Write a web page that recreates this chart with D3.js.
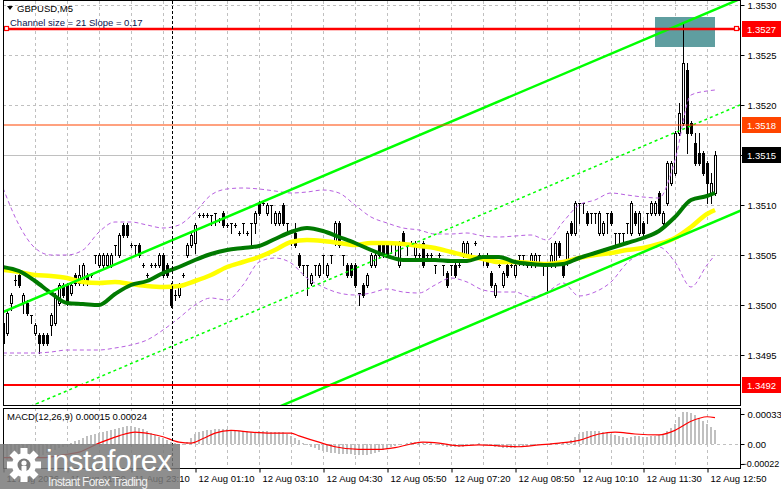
<!DOCTYPE html>
<html><head><meta charset="utf-8">
<script src="https://cdn.jsdelivr.net/npm/d3@7/dist/d3.min.js"></script>
<style>html,body{margin:0;padding:0;background:#fff;}svg{display:block;font-family:"Liberation Sans",Arial,sans-serif;}</style>
</head><body><svg id="c" width="781" height="489"></svg>
<script>
// ---------------- DATA ----------------
const symbolTitle = "GBPUSD,M5";
const channelText = "Channel size = 21 Slope = 0.17";
const macdText = "MACD(12,26,9) 0.00015 0.00024";

const opens = [
1.34982,1.34972,1.35002,1.35025,1.35030,1.35002,1.35002,1.34990,1.34972,1.34970,
1.34970,1.34970,1.34980,1.34982,1.35002,1.35020,1.35020,1.35012,1.35030,1.35022,
1.35022,1.35030,1.35030,1.35050,1.35040,1.35040,1.35040,1.35040,1.35060,1.35050,
1.35080,1.35080,1.35060,1.35060,1.35060,1.35040,1.35030,1.35040,1.35040,1.35040,
1.35050,1.35040,1.35020,1.35010,1.35010,1.35030,1.35050,1.35060,1.35062,1.35090,
1.35090,1.35090,1.35090,1.35092,1.35085,1.35092,1.35080,1.35082,1.35080,1.35072,
1.35082,1.35072,1.35082,1.35082,1.35102,1.35102,1.35092,1.35100,1.35082,1.35082,
1.35100,1.35082,1.35062,1.35072,1.35050,1.35040,1.35040,1.35022,1.35040,1.35030,
1.35050,1.35030,1.35050,1.35062,1.35082,1.35050,1.35040,1.35040,1.35040,1.35012,
1.35020,1.35020,1.35040,1.35040,1.35060,1.35062,1.35062,1.35062,1.35062,1.35040,
1.35072,1.35062,1.35062,1.35050,1.35050,1.35062,1.35050,1.35050,1.35040,1.35050,
1.35040,1.35032,1.35040,1.35040,1.35040,1.35050,1.35050,1.35050,1.35062,1.35050,
1.35050,1.35050,1.35032,1.35010,1.35040,1.35020,1.35040,1.35040,1.35030,1.35050,
1.35050,1.35040,1.35040,1.35040,1.35050,1.35040,1.35040,1.35040,1.35040,1.35062,
1.35042,1.35042,1.35082,1.35072,1.35102,1.35102,1.35092,1.35092,1.35092,1.35072,
1.35072,1.35092,1.35092,1.35072,1.35072,1.35072,1.35082,1.35072,1.35092,1.35072,
1.35082,1.35092,1.35092,1.35092,1.35112,1.35082,1.35102,1.35122,1.35132,1.35172,
1.35182,1.35235,1.35182,1.35162,1.35152,1.35152,1.35142,1.35112,1.35112];
const highs = [
1.34985,1.34995,1.35012,1.35030,1.35032,1.35012,1.35005,1.34990,1.34982,1.34972,
1.34972,1.34972,1.34992,1.35012,1.35022,1.35022,1.35022,1.35022,1.35032,1.35040,
1.35042,1.35032,1.35032,1.35050,1.35052,1.35052,1.35052,1.35052,1.35060,1.35072,
1.35082,1.35082,1.35062,1.35060,1.35062,1.35042,1.35032,1.35042,1.35042,1.35052,
1.35052,1.35042,1.35022,1.35015,1.35022,1.35032,1.35062,1.35072,1.35082,1.35092,
1.35092,1.35092,1.35090,1.35092,1.35087,1.35094,1.35082,1.35082,1.35082,1.35074,
1.35082,1.35074,1.35082,1.35094,1.35104,1.35104,1.35102,1.35100,1.35094,1.35094,
1.35102,1.35082,1.35064,1.35082,1.35052,1.35040,1.35040,1.35032,1.35040,1.35042,
1.35050,1.35042,1.35050,1.35084,1.35084,1.35050,1.35042,1.35042,1.35042,1.35012,
1.35022,1.35032,1.35052,1.35052,1.35062,1.35064,1.35064,1.35062,1.35062,1.35064,
1.35074,1.35062,1.35064,1.35064,1.35052,1.35064,1.35052,1.35052,1.35040,1.35052,
1.35040,1.35034,1.35040,1.35042,1.35042,1.35064,1.35064,1.35052,1.35064,1.35052,
1.35050,1.35052,1.35034,1.35022,1.35042,1.35034,1.35042,1.35042,1.35042,1.35050,
1.35050,1.35042,1.35052,1.35052,1.35050,1.35040,1.35040,1.35062,1.35064,1.35064,
1.35044,1.35074,1.35084,1.35104,1.35102,1.35102,1.35094,1.35092,1.35092,1.35094,
1.35084,1.35092,1.35094,1.35072,1.35072,1.35072,1.35082,1.35104,1.35094,1.35094,
1.35084,1.35092,1.35104,1.35104,1.35114,1.35094,1.35144,1.35144,1.35174,1.35202,
1.35283,1.35242,1.35184,1.35172,1.35172,1.35154,1.35144,1.35132,1.35154];
const lows = [
1.34960,1.34970,1.34995,1.35020,1.35018,1.34992,1.34990,1.34982,1.34970,1.34952,
1.34960,1.34960,1.34970,1.34980,1.35000,1.35008,1.35000,1.35010,1.35020,1.35020,
1.35020,1.35020,1.35028,1.35042,1.35038,1.35038,1.35038,1.35038,1.35050,1.35048,
1.35068,1.35068,1.35058,1.35050,1.35048,1.35038,1.35028,1.35038,1.35038,1.35038,
1.35028,1.35028,1.34998,1.35005,1.35008,1.35028,1.35048,1.35058,1.35052,1.35088,
1.35088,1.35088,1.35080,1.35080,1.35083,1.35078,1.35078,1.35072,1.35078,1.35070,
1.35072,1.35070,1.35060,1.35072,1.35090,1.35100,1.35090,1.35082,1.35080,1.35080,
1.35080,1.35072,1.35060,1.35058,1.35038,1.35030,1.35010,1.35020,1.35030,1.35028,
1.35032,1.35028,1.35042,1.35060,1.35058,1.35040,1.35028,1.35028,1.35018,1.35000,
1.35008,1.35018,1.35038,1.35038,1.35048,1.35048,1.35048,1.35052,1.35050,1.35038,
1.35060,1.35050,1.35060,1.35048,1.35048,1.35038,1.35048,1.35048,1.35032,1.35048,
1.35030,1.35018,1.35030,1.35028,1.35038,1.35048,1.35048,1.35048,1.35060,1.35048,
1.35040,1.35038,1.35018,1.35008,1.35038,1.35018,1.35028,1.35038,1.35028,1.35040,
1.35040,1.35038,1.35038,1.35038,1.35040,1.35030,1.35012,1.35038,1.35038,1.35048,
1.35028,1.35040,1.35070,1.35070,1.35082,1.35092,1.35080,1.35082,1.35082,1.35070,
1.35070,1.35072,1.35080,1.35058,1.35062,1.35062,1.35072,1.35070,1.35080,1.35070,
1.35070,1.35082,1.35090,1.35090,1.35090,1.35080,1.35100,1.35120,1.35130,1.35170,
1.35180,1.35152,1.35170,1.35140,1.35140,1.35130,1.35102,1.35102,1.35110];
const closes = [
1.34962,1.34992,1.35010,1.35025,1.35020,1.35010,1.34992,1.34990,1.34980,1.34962,
1.34962,1.34962,1.34990,1.35010,1.35020,1.35010,1.35002,1.35020,1.35022,1.35030,
1.35040,1.35022,1.35030,1.35050,1.35050,1.35050,1.35050,1.35050,1.35060,1.35070,
1.35070,1.35070,1.35060,1.35060,1.35050,1.35040,1.35030,1.35040,1.35040,1.35050,
1.35030,1.35030,1.35000,1.35010,1.35020,1.35030,1.35060,1.35070,1.35080,1.35090,
1.35090,1.35090,1.35090,1.35092,1.35085,1.35080,1.35080,1.35082,1.35080,1.35072,
1.35082,1.35072,1.35082,1.35092,1.35092,1.35102,1.35100,1.35100,1.35092,1.35092,
1.35082,1.35082,1.35062,1.35060,1.35040,1.35040,1.35040,1.35030,1.35040,1.35040,
1.35050,1.35040,1.35050,1.35082,1.35060,1.35050,1.35030,1.35030,1.35020,1.35012,
1.35010,1.35030,1.35050,1.35050,1.35050,1.35050,1.35050,1.35062,1.35062,1.35062,
1.35062,1.35062,1.35062,1.35062,1.35050,1.35040,1.35050,1.35050,1.35040,1.35050,
1.35040,1.35020,1.35040,1.35030,1.35040,1.35062,1.35062,1.35050,1.35062,1.35050,
1.35050,1.35040,1.35020,1.35020,1.35040,1.35032,1.35030,1.35040,1.35040,1.35050,
1.35050,1.35040,1.35050,1.35050,1.35050,1.35040,1.35040,1.35050,1.35062,1.35050,
1.35030,1.35072,1.35072,1.35102,1.35102,1.35102,1.35082,1.35092,1.35092,1.35092,
1.35082,1.35092,1.35082,1.35072,1.35072,1.35072,1.35082,1.35102,1.35082,1.35092,
1.35072,1.35092,1.35102,1.35102,1.35092,1.35092,1.35142,1.35142,1.35172,1.35192,
1.35242,1.35172,1.35172,1.35142,1.35142,1.35132,1.35122,1.35122,1.35150];

// moving averages / bands sampled at bar indices
const lineIdx = [0,4,8,12,16,20,24,28,32,36,40,44,48,52,56,60,64,68,72,76,80,84,88,92,96,100,104,108,112,116,120,124,128,132,136,140,144,148,152,156,160,164,168,172,176,178];
const maFast = [1.35038,1.35034,1.35024,1.35012,1.35002,1.35001,1.35000,1.35011,1.35020,1.35024,1.35032,1.35038,1.35045,1.35051,1.35055,1.35057,1.35059,1.35066,1.35073,1.35077,1.35074,1.35068,1.35062,1.35055,1.35049,1.35045,1.35045,1.35045,1.35044,1.35044,1.35048,1.35048,1.35043,1.35041,1.35040,1.35041,1.35047,1.35052,1.35057,1.35062,1.35067,1.35074,1.35088,1.35105,1.35109,1.35112];
const maSlow = [1.35035,1.35033,1.35030,1.35029,1.35027,1.35023,1.35022,1.35023,1.35021,1.35019,1.35018,1.35019,1.35024,1.35030,1.35038,1.35043,1.35048,1.35055,1.35063,1.35065,1.35064,1.35062,1.35060,1.35062,1.35062,1.35061,1.35059,1.35057,1.35053,1.35049,1.35046,1.35043,1.35043,1.35042,1.35041,1.35043,1.35047,1.35050,1.35052,1.35055,1.35057,1.35061,1.35067,1.35078,1.35091,1.35095];
const bandUpper = [1.35117,1.35080,1.35057,1.35050,1.35050,1.35055,1.35073,1.35083,1.35083,1.35080,1.35077,1.35080,1.35093,1.35110,1.35116,1.35117,1.35116,1.35114,1.35112,1.35113,1.35115,1.35112,1.35100,1.35088,1.35082,1.35077,1.35075,1.35071,1.35071,1.35072,1.35069,1.35068,1.35069,1.35070,1.35065,1.35083,1.35100,1.35105,1.35112,1.35110,1.35108,1.35107,1.35145,1.35210,1.35214,1.35215];
const bandLower = [1.34952,1.34952,1.34952,1.34953,1.34955,1.34955,1.34955,1.34957,1.34960,1.34965,1.34975,1.34987,1.35000,1.35007,1.35005,1.35020,1.35043,1.35047,1.35042,1.35027,1.35018,1.35012,1.35010,1.35012,1.35016,1.35013,1.35012,1.35020,1.35027,1.35023,1.35015,1.35013,1.35013,1.35008,1.35013,1.35022,1.35009,1.35013,1.35023,1.35042,1.35053,1.35058,1.35043,1.35018,1.35040,1.35050];

// regression channel (start / end bar and upper-line prices), width in price
const channelBars = [0, 186];
const channelUpper = [1.34993, 1.35309];
const channelWidth = 0.00212;

// horizontal levels
const levelValues = [1.35276, 1.3518, 1.3492];
const levelLabels = ["1.3527", "1.3518", "1.3492"];
const currentPrice = 1.3515;
const currentLabel = "1.3515";
// highlighted zone (bars, prices)
const zoneBars = [163, 178];
const zonePrices = [1.35258, 1.35288];

// MACD (values in 1e-5)
const macdHistRaw = [
-18,-18,-18,-18,-18,-17,-17,-15,-15,-14,-12,-10,-9,-7,-4,-3,-1,1,3,4,
7,9,10,11,12,13,14,15,17,18,19,20,20,19,18,17,14,12,10,8,
7,4,2,1,0,-1,2,7,11,13,14,15,15,17,17,17,17,15,15,14,
14,14,13,13,14,14,14,13,13,13,13,11,9,7,4,1,-1,-3,-4,-7,
-8,-9,-10,-10,-11,-11,-11,-11,-12,-12,-12,-12,-11,-10,-9,-7,-6,-3,-2,-1,
0,1,2,2,2,1,1,1,0,-1,-2,-3,-3,-3,-3,-3,-2,-1,0,1,
0,-1,-2,-3,-3,-4,-4,-4,-4,-3,-3,-2,-2,-1,-1,0,0,1,1,1,
2,2,4,8,11,13,14,14,14,14,13,12,11,10,9,8,7,8,9,9,
8,8,9,9,10,11,14,18,22,30,35,35,34,32,29,25,22,19,15];
const signalIdx = [0,10,15,19,24,29,33,37,40,44,47,50,53,57,62,67,72,74,79,83,89,94,98,102,105,109,114,119,124,129,134,139,144,149,153,158,164,168,172,176,178];
const signalRaw = [-15,-15,-12,-9,1,9,13,11,8,2,1,6,12,15,13,12,12,9,2,-3,-6,-6,-4,0,2,1,-2,-1,-2,-3,-1,1,4,11,13,11,10,15,25,30,29];
const macdHist = macdHistRaw.map(v => v * 1e-5);
const signalVals = signalRaw.map(v => v * 1e-5);

const priceTicks = [1.3495,1.3500,1.3505,1.3510,1.3515,1.3520,1.3525,1.3530];
const macdTicks = [0.00033, 0, -0.00022];
const timeTickIdx = [0,16,32,48,64,80,96,112,128,144,160,176];
const timeTickLabels = ["11 Aug 2026","11 Aug 21:50","11 Aug 23:10","12 Aug 01:10","12 Aug 03:10","12 Aug 04:30","12 Aug 05:50","12 Aug 07:20","12 Aug 08:50","12 Aug 10:10","12 Aug 11:30","12 Aug 12:50"];
const separatorIdx = 42;

// ---------------- DRAW ----------------
const svg = d3.select("#c");
const L = 3, R = 740, T = 1, B = 405, MT = 408, MB = 468;
const x = d3.scaleLinear().domain([0, 178]).range([3, 715]);
const y = d3.scaleLinear().domain([1.3490, 1.3530]).range([405, 5]);
const ym = d3.scaleLinear().domain([-0.00022, 0.00033]).range([464, 414]);
const FS = "9.5px";

const defs = svg.append("defs");
defs.append("clipPath").attr("id","cm").append("rect").attr("x",L+1).attr("y",T).attr("width",R-L-1).attr("height",B-T);
defs.append("clipPath").attr("id","cd").append("rect").attr("x",L+1).attr("y",MT+1).attr("width",R-L-1).attr("height",MB-MT-1);

const gMain = svg.append("g").attr("clip-path","url(#cm)");
const gMacd = svg.append("g").attr("clip-path","url(#cd)");

// grid
const gridX = d3.range(0, 177, 8);
[gMain, gMacd].forEach((g, i) => {
  g.selectAll(null).data(gridX).enter().append("line")
    .attr("x1", d => Math.round(x(d)) + 0.5).attr("x2", d => Math.round(x(d)) + 0.5)
    .attr("y1", i ? MT : T).attr("y2", i ? MB : B)
    .attr("stroke", "#c0c0c0").attr("stroke-dasharray", "3,3");
});
gMain.selectAll(null).data(priceTicks).enter().append("line")
  .attr("x1", L).attr("x2", R).attr("y1", d => Math.round(y(d)) + 0.5).attr("y2", d => Math.round(y(d)) + 0.5)
  .attr("stroke", "#c0c0c0").attr("stroke-dasharray", "3,3");
gMacd.append("line").attr("x1", L).attr("x2", R).attr("y1", Math.round(ym(0)) + 0.5).attr("y2", Math.round(ym(0)) + 0.5)
  .attr("stroke", "#c0c0c0").attr("stroke-dasharray", "3,3");

// period separator
[[T, B], [MT, MB]].forEach(([a, b]) => {
  svg.append("line").attr("x1", Math.round(x(separatorIdx)) + 1.5).attr("x2", Math.round(x(separatorIdx)) + 1.5)
    .attr("y1", a).attr("y2", b).attr("stroke", "#000").attr("stroke-dasharray", "3,2");
});

// zone rectangle
gMain.append("rect").attr("x", x(zoneBars[0])).attr("width", x(zoneBars[1]) - x(zoneBars[0]))
  .attr("y", y(zonePrices[1])).attr("height", y(zonePrices[0]) - y(zonePrices[1])).attr("fill", "#5f9ea0");

// current price line
gMain.append("line").attr("x1", L).attr("x2", R).attr("y1", Math.round(y(currentPrice)) + 0.5).attr("y2", Math.round(y(currentPrice)) + 0.5)
  .attr("stroke", "#c0c0c0");

// candles
const bars = d3.range(opens.length);
const cg = gMain.append("g").attr("shape-rendering", "crispEdges");
bars.forEach(i => {
  const cx = Math.round(x(i));
  const o = opens[i], c = closes[i], h = highs[i], l = lows[i];
  cg.append("line").attr("x1", cx + 0.5).attr("x2", cx + 0.5).attr("y1", Math.round(y(h))).attr("y2", Math.round(y(l)) + 1).attr("stroke", "#000");
  const yt = Math.round(y(Math.max(o, c))), yb = Math.round(y(Math.min(o, c)));
  if (yb - yt < 1) {
    cg.append("line").attr("x1", cx - 1).attr("x2", cx + 2).attr("y1", yt + 0.5).attr("y2", yt + 0.5).attr("stroke", "#000");
  } else {
    cg.append("rect").attr("x", cx - 0.5).attr("width", 2).attr("y", yt + 0.5).attr("height", yb - yt)
      .attr("fill", c >= o ? "#fff" : "#000").attr("stroke", "#000");
  }
});

// bands
const bandLine = d3.line().x((d, i) => x(lineIdx[i])).y(d => y(d)).curve(d3.curveMonotoneX);
[bandUpper, bandLower].forEach(arr => {
  gMain.append("path").attr("d", bandLine(arr)).attr("fill", "none").attr("stroke", "#b760e0").attr("stroke-width", 1).attr("stroke-dasharray", "4,3");
});
// moving averages
gMain.append("path").attr("d", bandLine(maSlow)).attr("fill", "none").attr("stroke", "#ffff00").attr("stroke-width", 4.5);
gMain.append("path").attr("d", bandLine(maFast)).attr("fill", "none").attr("stroke", "#007a00").attr("stroke-width", 4);

// channel
const chLine = (off) => gMain.append("line")
  .attr("x1", x(channelBars[0])).attr("x2", x(channelBars[1]))
  .attr("y1", y(channelUpper[0] - off)).attr("y2", y(channelUpper[1] - off))
  .attr("stroke", "#00ff00");
chLine(0).attr("stroke-width", 2.5);
chLine(channelWidth).attr("stroke-width", 2.5);
chLine(channelWidth / 2).attr("stroke-width", 1.5).attr("stroke-dasharray", "3,3");

// horizontal levels
const levelColors = ["#ff0000", "#ff4500", "#ff0000"];
const levelWidths = [2.5, 1.2, 2];
levelValues.forEach((v, i) => {
  gMain.append("line").attr("x1", L).attr("x2", R).attr("y1", y(v)).attr("y2", y(v))
    .attr("stroke", levelColors[i]).attr("stroke-width", levelWidths[i]);
});
// anchor squares on first level
[L + 1, R - 6].forEach(sx => {
  svg.append("rect").attr("x", sx + 0.5).attr("y", Math.round(y(levelValues[0])) - 2.5).attr("width", 4).attr("height", 4)
    .attr("fill", "#fff").attr("stroke", "#ff0000").attr("stroke-width", 1.2);
});

// MACD histogram + signal
gMacd.append("g").attr("shape-rendering", "crispEdges").selectAll("rect").data(macdHist).enter().append("rect")
  .attr("x", (d, i) => Math.round(x(i)) - 1).attr("width", 2)
  .attr("y", d => Math.min(ym(d), ym(0))).attr("height", d => Math.abs(ym(d) - ym(0)))
  .attr("fill", "#c0c0c0");
gMacd.append("path").attr("d", d3.line().x((d, i) => x(signalIdx[i])).y(d => ym(d)).curve(d3.curveMonotoneX)(signalVals))
  .attr("fill", "none").attr("stroke", "#ff0000").attr("stroke-width", 1.2);

// frames
const fr = svg.append("g").attr("fill", "none").attr("stroke", "#000").attr("shape-rendering", "crispEdges");
fr.append("rect").attr("x", L + 0.5).attr("y", T - 0.5).attr("width", R - L).attr("height", B - T + 1);
fr.append("rect").attr("x", L + 0.5).attr("y", MT + 0.5).attr("width", R - L).attr("height", MB - MT);

// axes
const ax = svg.append("g").attr("transform", `translate(${R + 0.5},0)`)
  .call(d3.axisRight(y).tickValues(priceTicks).tickSize(4).tickFormat(d3.format(".4f")));
ax.select(".domain").remove();
const axm = svg.append("g").attr("transform", `translate(${R + 0.5},0)`)
  .call(d3.axisRight(ym).tickValues(macdTicks).tickSize(4).tickFormat(d => d === 0 ? "0.00" : d3.format(".5f")(d)));
axm.select(".domain").remove();
const axb = svg.append("g").attr("transform", `translate(0,${MB + 0.5})`)
  .call(d3.axisBottom(x).tickValues(timeTickIdx).tickSize(4).tickFormat((d, i) => timeTickLabels[i]));
axb.select(".domain").remove();
axb.selectAll("text").attr("text-anchor", "start").attr("dx", 3);
axb.selectAll(".tick line").attr("transform", "translate(0.5,0)");
svg.selectAll(".tick text").attr("font-size", FS).attr("fill", "#000").attr("font-family", "Liberation Sans, Arial, sans-serif");
svg.selectAll(".tick line").attr("stroke", "#000");
axm.selectAll(".tick text").filter(d => d < 0).attr("dx", -6).attr("font-size", "9px");

// right-side value boxes
const boxColors = ["#ff0000", "#ff4500", "#ff0000"];
function valueBox(v, label, bg) {
  const yy = Math.round(y(v));
  svg.append("rect").attr("x", R + 2).attr("y", yy - 8).attr("width", 39).attr("height", 16).attr("fill", bg);
  svg.append("text").attr("x", R + 7).attr("y", yy + 3.5).attr("font-size", FS).attr("fill", "#fff").text(label);
}
levelValues.forEach((v, i) => valueBox(v, levelLabels[i], boxColors[i]));
valueBox(currentPrice, currentLabel, "#000");

// header texts
svg.append("path").attr("d", "M7,6 L13,6 L10,10 Z").attr("fill", "#000");
svg.append("text").attr("x", 17).attr("y", 12).attr("font-size", FS).attr("fill", "#000").text(symbolTitle);
svg.append("text").attr("x", 10).attr("y", 26).attr("font-size", FS).attr("fill", "#0a1450").text(channelText);
svg.append("text").attr("x", 7).attr("y", 420).attr("font-size", FS).attr("fill", "#000").text(macdText);

// watermark logo
const lg = svg.append("g");
lg.append("rect").attr("x", 0).attr("y", 444).attr("width", 180).attr("height", 45).attr("fill", "#7a7a7a").attr("opacity", 0.85);
const gear = lg.append("g").attr("transform", "translate(24,465)").attr("fill", "#fff");
d3.range(8).forEach(k => {
  gear.append("rect").attr("x", -3.5).attr("y", -17).attr("width", 7).attr("height", 8).attr("transform", `rotate(${k * 45})`);
});
gear.append("circle").attr("r", 12);
gear.append("circle").attr("r", 6.5).attr("fill", "#7a7a7a");
gear.append("circle").attr("cy", -2).attr("r", 2.6);
gear.append("rect").attr("x", -2.5).attr("y", 1).attr("width", 5).attr("height", 14);
lg.append("text").attr("x", 46).attr("y", 471).attr("font-size", "30px").attr("font-family", "Liberation Sans, Arial, sans-serif")
  .attr("fill", "#fff").attr("textLength", 126).text("instaforex");
lg.append("text").attr("x", 48).attr("y", 486).attr("font-size", "12px").attr("fill", "#f0f0f0").attr("textLength", 100).text("Instant Forex Trading");
</script></body></html>
